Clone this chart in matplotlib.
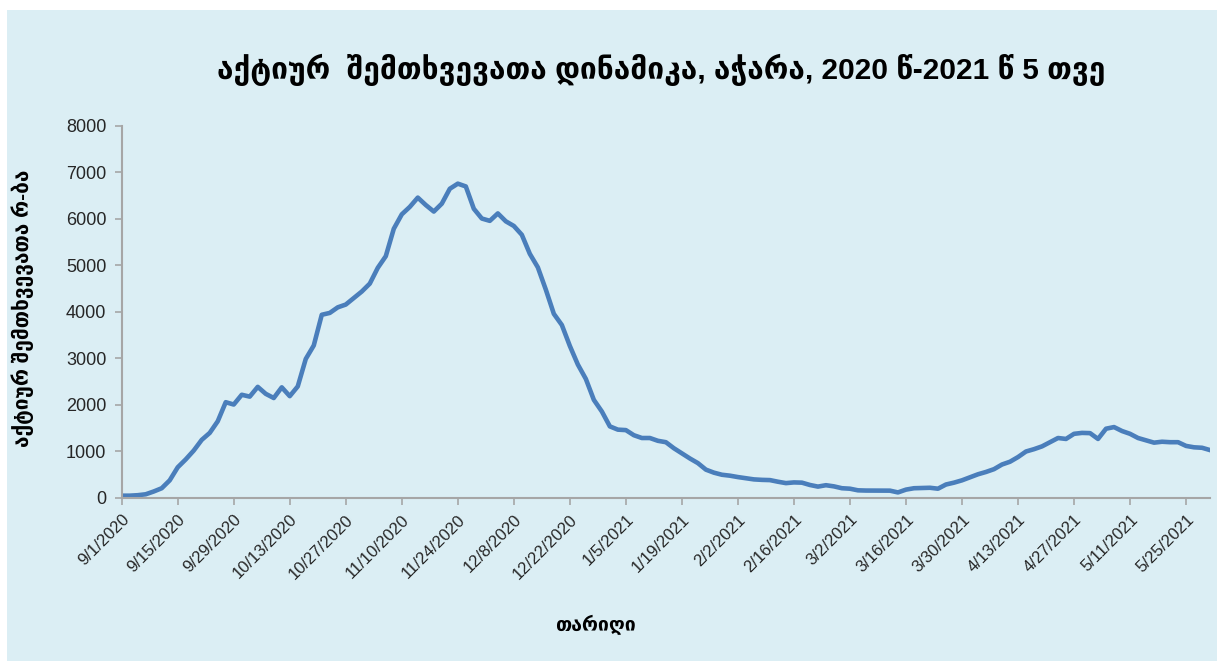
import numpy as np
import pandas as pd
import matplotlib
matplotlib.use('Agg')
import matplotlib.pyplot as plt
from matplotlib.patches import Rectangle

plt.rcParams['font.family'] = ['Liberation Sans', 'DejaVu Sans']

# active cases, read every second day from 9/1/2020
start_date = '2020-09-01'
step_days = 2
active_cases = [
    50, 50, 60, 80, 140, 210, 380, 660, 830, 1020,
    1250, 1400, 1650, 2060, 2010, 2220, 2180, 2390, 2240, 2150,
    2380, 2190, 2400, 2990, 3280, 3940, 3980, 4100, 4160, 4300,
    4440, 4610, 4950, 5200, 5790, 6100, 6260, 6460, 6300, 6160,
    6330, 6650, 6760, 6700, 6220, 6010, 5960, 6120, 5950, 5850,
    5660, 5250, 4960, 4480, 3960, 3720, 3270, 2870, 2560, 2110,
    1860, 1540, 1470, 1460, 1350, 1290, 1290, 1230, 1200, 1070,
    960, 850, 750, 610, 545, 500, 480, 450, 425, 400,
    390, 385, 350, 320, 335, 330, 280, 245, 275, 250,
    210, 200, 165, 160, 160, 160, 158, 120, 180, 210,
    215, 220, 200, 290, 330, 380, 445, 510, 560, 620,
    720, 780, 880, 1000, 1050, 1110, 1200, 1290, 1270, 1380,
    1400, 1395, 1270, 1490, 1525, 1440, 1380, 1290, 1240, 1190,
    1210, 1200, 1200, 1120, 1090, 1080, 1030,
]
y_ticks = [0, 1000, 2000, 3000, 4000, 5000, 6000, 7000, 8000]

title = 'აქტიურ  შემთხვევათა დინამიკა, აჭარა, 2020 წ-2021 წ 5 თვე'
y_label = 'აქტიურ შემთხვევათა რ-ბა'
x_label = 'თარიღი'

dates = pd.date_range(start_date, periods=len(active_cases), freq=f'{step_days}D')
tick_dates = pd.date_range(start_date, '2021-05-25', freq='14D')

bg = '#DBEEF4'
axis_gray = '#A6A6A6'

fig = plt.figure(figsize=(12.17, 6.61), dpi=100, facecolor='white')
fig.patches.append(Rectangle((7 / 1217, 0.0), 1 - 7 / 1217, 1 - 10 / 661,
                             transform=fig.transFigure, facecolor=bg,
                             edgecolor='none', zorder=-10))

ax = fig.add_axes([0.1, 0.2466, 0.8943, 0.5628])
ax.set_facecolor(bg)
ax.plot(dates, active_cases, color='#4A7EBB', lw=3.3, solid_joinstyle='round')

ax.set_xlim(dates[0], dates[-1])
ax.set_ylim(0, 8000)
ax.set_yticks(y_ticks)
ax.set_xticks(tick_dates)
ax.set_xticklabels([f'{d.month}/{d.day}/{d.year}' for d in tick_dates],
                   rotation=45, ha='right', rotation_mode='anchor')

for side in ['top', 'right']:
    ax.spines[side].set_visible(False)
for side in ['left', 'bottom']:
    ax.spines[side].set_color(axis_gray)
    ax.spines[side].set_linewidth(1.5)
ax.tick_params(axis='both', colors=axis_gray, length=5, width=1.2,
               labelcolor='#262626', labelsize=12)
ax.tick_params(axis='y', pad=6, labelsize=13)
ax.tick_params(axis='x', pad=5)

fig.text(0.543, 0.894, title, ha='center', va='center', fontsize=21.5,
         fontweight='bold', color='black')
fig.text(0.019, 0.534, y_label, ha='center', va='center', rotation=90,
         fontsize=15, fontweight='bold', color='black')
fig.text(0.489, 0.055, x_label, ha='center', va='center', fontsize=14,
         fontweight='bold', color='black')

fig.savefig('out.png', dpi=100, facecolor='white')
